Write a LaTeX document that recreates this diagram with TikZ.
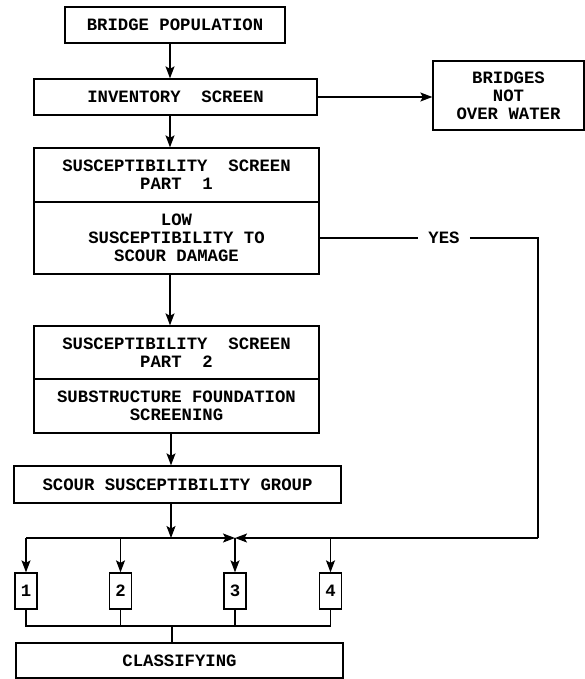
\documentclass[tikz,border=0pt]{standalone}
\usepackage{fontspec}
\setmonofont{Liberation Mono}
\usetikzlibrary{arrows.meta}
\tikzset{
 box/.style={draw, line width=1.3pt, align=center, inner sep=0pt,
   font=\ttfamily\bfseries\fontsize{17.3}{18}\selectfont},
 lbl/.style={inner sep=0pt, font=\ttfamily\bfseries\fontsize{17.3}{18}\selectfont},
 arr/.style={line width=1.3pt, -{Stealth[length=12pt,width=9pt,inset=2.5pt]}},
 ln/.style={line width=1.3pt},
}
\begin{document}
\begin{tikzpicture}[x=1pt,y=-1pt]
\useasboundingbox (0,0) rectangle (585,679);
% nodes
\node[box, minimum width=220pt, minimum height=36pt] (bp) at (175,25) {BRIDGE POPULATION};
\node[box, minimum width=283pt, minimum height=36pt] (inv) at (175.5,97) {INVENTORY~~SCREEN};
\node[box, minimum width=151pt, minimum height=69pt] (bnw) at (508.5,95.5) {BRIDGES\\NOT\\OVER WATER};
\node[box, minimum width=285pt, minimum height=54pt] (p1a) at (176.5,175) {SUSCEPTIBILITY~~SCREEN\\PART~~1};
\node[box, minimum width=285pt, minimum height=72pt] (p1b) at (176.5,238) {LOW\\SUSCEPTIBILITY TO\\SCOUR DAMAGE};
\node[box, minimum width=285pt, minimum height=53pt] (p2a) at (176.5,352.5) {SUSCEPTIBILITY~~SCREEN\\PART~~2};
\node[box, minimum width=285pt, minimum height=54pt] (p2b) at (176.5,406) {SUBSTRUCTURE FOUNDATION\\SCREENING};
\node[box, minimum width=327pt, minimum height=37pt] (sg) at (177.5,484.5) {SCOUR SUSCEPTIBILITY GROUP};
\node[box, minimum width=22pt, minimum height=36pt] (b1) at (26,591) {1};
\node[box, minimum width=22pt, minimum height=36pt] (b2) at (120.5,591) {2};
\node[box, minimum width=22pt, minimum height=36pt] (b3) at (235,591) {3};
\node[box, minimum width=22pt, minimum height=36pt] (b4) at (330.5,591) {4};
\node[box, minimum width=327pt, minimum height=35pt] (cl) at (179.5,660.5) {CLASSIFYING};
\node[lbl] (yes) at (444,238) {YES};
% helper coordinates
\coordinate (sp1) at (170,0);
\coordinate (sp2) at (171,0);
\coordinate (hl) at (0,538);
\coordinate (jn) at (235,538);
\coordinate (yr) at (538,238);
\coordinate (yd) at (538,538);
\coordinate (bl) at (0,626);
\coordinate (st) at (172,626);
% connectors
\draw[arr] (bp.south -| sp1) -- (inv.north -| sp1);
\draw[arr] (inv.east) -- (bnw.west |- inv.east);
\draw[arr] (inv.south -| sp1) -- (p1a.north -| sp1);
\draw[arr] (p1b.south -| sp1) -- (p2a.north -| sp1);
\draw[arr] (p2b.south -| sp2) -- (sg.north -| sp2);
\draw[arr] (sg.south -| sp2) -- (hl -| sp2);
\draw[ln] (p1b.east) -- ([xshift=-10pt]yes.west);
\draw[ln] ([xshift=10pt]yes.east) -- (yr) -- (yd);
\draw[arr] (hl -| b1) -- (jn);
\draw[arr] (yd) -- (jn);
\draw[arr] (hl -| b1) -- (b1.north);
\draw[arr] (hl -| b2) -- (b2.north);
\draw[arr] (jn) -- (b3.north);
\draw[arr] (hl -| b4) -- (b4.north);
\draw[ln] (b1.south) -- (bl -| b1) -- (bl -| b4) -- (b4.south);
\draw[ln] (b2.south) -- (bl -| b2);
\draw[ln] (b3.south) -- (bl -| b3);
\draw[ln] (st) -- (cl.north -| st);
\end{tikzpicture}
\end{document}
